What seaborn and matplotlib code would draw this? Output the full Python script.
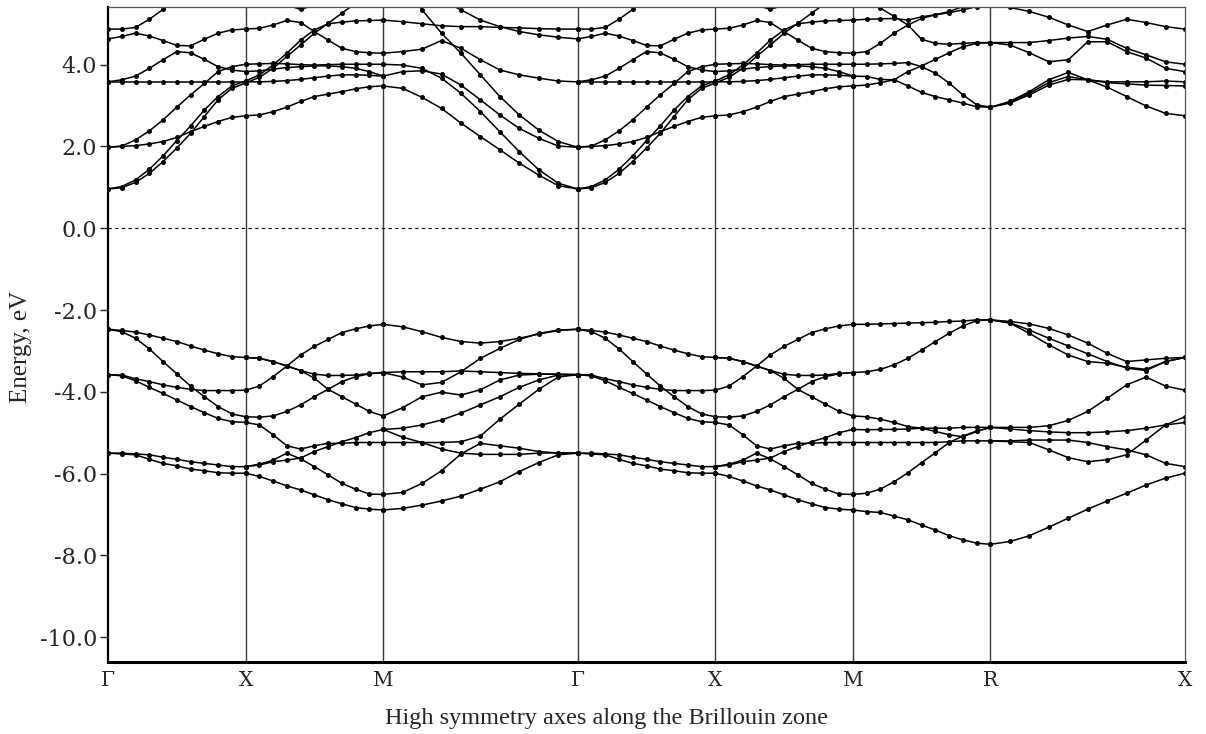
import numpy as np
import pandas as pd
import matplotlib
matplotlib.use("Agg")
import matplotlib.pyplot as plt
import seaborn as sns

# ---------------- data (energies in eV, 11 k-points per path segment) ----------------
K_LABELS = ["\u0393", "X", "M", "\u0393", "X", "M", "R", "X"]
SEG_LEN = [0.5, 0.5, 0.7071, 0.5, 0.5, 0.5, 0.7071]
Y_TICKS = [-10, -8, -6, -4, -2, 0, 2, 4]

# Gamma -> X (same dispersion on both Gamma-X legs of the path)
GX_val = [
    [-2.47, -2.50, -2.54, -2.61, -2.69, -2.77, -2.88, -2.98, -3.07, -3.14, -3.16],
    [-2.47, -2.53, -2.69, -2.95, -3.26, -3.56, -3.86, -4.12, -4.36, -4.54, -4.61],
    [-3.58, -3.59, -3.68, -3.75, -3.83, -3.89, -3.94, -3.97, -3.97, -3.97, -3.96],
    [-3.58, -3.61, -3.73, -3.89, -4.04, -4.20, -4.36, -4.51, -4.65, -4.73, -4.75],
    [-5.50, -5.50, -5.52, -5.54, -5.60, -5.65, -5.71, -5.75, -5.79, -5.83, -5.83],
    [-5.50, -5.52, -5.54, -5.65, -5.75, -5.81, -5.89, -5.93, -5.98, -5.99, -5.99],
]
GX_con = [
    [0.96, 0.99, 1.12, 1.34, 1.63, 1.96, 2.32, 2.73, 3.14, 3.42, 3.55],
    [0.96, 1.02, 1.18, 1.44, 1.77, 2.14, 2.50, 2.89, 3.22, 3.48, 3.60],
    [1.98, 2.00, 2.02, 2.06, 2.12, 2.22, 2.36, 2.49, 2.61, 2.71, 2.75],
    [1.98, 2.01, 2.16, 2.38, 2.65, 2.96, 3.26, 3.54, 3.83, 3.95, 4.01],
    [3.58, 3.58, 3.58, 3.58, 3.58, 3.58, 3.58, 3.58, 3.58, 3.58, 3.58],
    [3.58, 3.63, 3.72, 3.91, 4.12, 4.32, 4.29, 4.13, 3.95, 3.87, 3.83],
    [4.63, 4.69, 4.77, 4.70, 4.59, 4.47, 4.46, 4.62, 4.77, 4.85, 4.87],
    [4.87, 4.87, 4.91, 5.11, 5.35, 5.62, 5.91, 6.19, 6.48, 6.72, 6.97],
]

# X -> M (same dispersion on both X-M legs)
XM_val = [
    [-3.16, -3.18, -3.26, -3.37, -3.48, -3.57, -3.60, -3.60, -3.59, -3.55, -3.53],
    [-3.16, -3.18, -3.26, -3.37, -3.48, -3.67, -3.94, -4.12, -4.30, -4.48, -4.59],
    [-3.96, -3.86, -3.63, -3.37, -3.10, -2.89, -2.72, -2.55, -2.46, -2.39, -2.35],
    [-4.61, -4.62, -4.59, -4.48, -4.32, -4.12, -3.94, -3.75, -3.63, -3.56, -3.53],
    [-4.75, -4.81, -5.05, -5.32, -5.40, -5.32, -5.26, -5.26, -5.24, -5.24, -5.24],
    [-5.83, -5.77, -5.67, -5.50, -5.64, -5.83, -6.03, -6.24, -6.38, -6.50, -6.51],
    [-5.83, -5.79, -5.71, -5.67, -5.62, -5.46, -5.34, -5.22, -5.12, -5.00, -4.92],
    [-5.99, -6.07, -6.18, -6.30, -6.40, -6.52, -6.64, -6.74, -6.83, -6.87, -6.89],
]
XM_con = [
    [2.75, 2.77, 2.85, 2.96, 3.10, 3.22, 3.28, 3.34, 3.41, 3.46, 3.48],
    [3.58, 3.58, 3.59, 3.61, 3.64, 3.68, 3.72, 3.75, 3.75, 3.74, 3.72],
    [3.83, 3.85, 3.89, 3.93, 3.95, 3.97, 3.97, 3.95, 3.91, 3.83, 3.72],
    [4.01, 4.02, 4.03, 4.02, 4.00, 3.99, 4.00, 4.01, 4.01, 4.01, 4.01],
    [3.55, 3.69, 3.91, 4.20, 4.48, 4.77, 5.01, 5.26, 5.50, 5.75, 6.03],
    [3.60, 3.75, 3.99, 4.28, 4.60, 4.85, 5.00, 5.04, 5.07, 5.08, 5.09],
    [4.87, 4.89, 4.97, 5.08, 5.03, 4.81, 4.60, 4.40, 4.32, 4.29, 4.28],
    [6.07, 5.91, 5.70, 5.46, 5.35, 5.46, 5.70, 5.95, 6.19, 6.40, 6.64],
]

# M -> Gamma
MG_val = [
    [-2.35, -2.41, -2.53, -2.67, -2.77, -2.81, -2.77, -2.69, -2.59, -2.50, -2.47],
    [-3.53, -3.51, -3.51, -3.51, -3.49, -3.51, -3.53, -3.55, -3.56, -3.57, -3.58],
    [-3.53, -3.64, -3.83, -3.77, -3.51, -3.18, -2.94, -2.72, -2.57, -2.49, -2.47],
    [-4.59, -4.39, -4.12, -4.01, -4.08, -3.95, -3.71, -3.59, -3.57, -3.57, -3.58],
    [-4.92, -4.89, -4.81, -4.69, -4.52, -4.32, -4.12, -3.89, -3.71, -3.59, -3.58],
    [-5.24, -5.24, -5.24, -5.24, -5.22, -5.08, -4.67, -4.30, -3.94, -3.64, -3.58],
    [-6.51, -6.46, -6.24, -5.93, -5.52, -5.26, -5.32, -5.38, -5.46, -5.50, -5.50],
    [-4.92, -5.11, -5.24, -5.40, -5.50, -5.53, -5.53, -5.53, -5.50, -5.49, -5.50],
    [-6.89, -6.85, -6.77, -6.67, -6.55, -6.38, -6.20, -5.95, -5.73, -5.54, -5.50],
]
MG_con = [
    [3.48, 3.42, 3.20, 2.93, 2.57, 2.24, 1.92, 1.59, 1.30, 1.04, 0.96],
    [4.01, 3.99, 3.91, 3.67, 3.30, 2.85, 2.36, 1.87, 1.43, 1.10, 0.96],
    [3.72, 3.83, 3.85, 3.77, 3.50, 3.14, 2.77, 2.44, 2.20, 2.01, 1.98],
    [4.28, 4.32, 4.38, 4.59, 4.40, 4.12, 3.87, 3.75, 3.67, 3.60, 3.58],
    [5.09, 5.05, 5.00, 4.95, 4.93, 4.93, 4.91, 4.90, 4.88, 4.87, 4.87],
    [6.23, 6.03, 5.83, 5.58, 5.34, 5.09, 4.93, 4.81, 4.73, 4.67, 4.63],
    [6.80, 6.07, 5.34, 4.77, 4.28, 3.75, 3.22, 2.77, 2.40, 2.12, 1.98],
]

# M -> R
MR_val = [
    [-2.35, -2.35, -2.34, -2.33, -2.32, -2.31, -2.30, -2.28, -2.27, -2.24, -2.24],
    [-3.53, -3.51, -3.45, -3.34, -3.18, -2.98, -2.77, -2.57, -2.39, -2.26, -2.24],
    [-4.59, -4.61, -4.67, -4.75, -4.85, -4.89, -4.97, -5.05, -5.10, -4.97, -4.87],
    [-4.92, -4.93, -4.92, -4.92, -4.91, -4.89, -4.89, -4.89, -4.87, -4.87, -4.87],
    [-5.24, -5.24, -5.24, -5.24, -5.24, -5.24, -5.24, -5.22, -5.20, -5.20, -5.20],
    [-6.51, -6.48, -6.38, -6.20, -5.98, -5.73, -5.49, -5.24, -5.08, -4.96, -4.87],
    [-6.89, -6.93, -6.95, -7.04, -7.13, -7.26, -7.38, -7.52, -7.62, -7.70, -7.73],
]
MR_con = [
    [3.48, 3.50, 3.56, 3.63, 3.48, 3.32, 3.22, 3.14, 3.06, 2.97, 2.96],
    [3.72, 3.71, 3.64, 3.63, 3.83, 3.97, 4.13, 4.29, 4.44, 4.52, 4.54],
    [4.01, 4.01, 4.02, 4.03, 4.05, 3.95, 3.79, 3.55, 3.26, 3.02, 2.96],
    [4.28, 4.32, 4.52, 4.77, 4.97, 5.13, 5.22, 5.30, 5.42, 5.54, 5.66],
    [5.91, 5.66, 5.38, 5.18, 4.97, 4.62, 4.52, 4.50, 4.52, 4.54, 4.54],
    [5.09, 5.11, 5.12, 5.13, 5.09, 5.17, 5.22, 5.27, 5.34, 5.42, 5.50],
]

# R -> X
RX_val = [
    [-2.24, -2.28, -2.34, -2.45, -2.61, -2.81, -3.06, -3.26, -3.22, -3.18, -3.16],
    [-2.24, -2.31, -2.49, -2.69, -2.88, -3.07, -3.26, -3.42, -3.48, -3.26, -3.16],
    [-2.24, -2.32, -2.57, -2.85, -3.10, -3.26, -3.30, -3.40, -3.45, -3.26, -3.16],
    [-4.87, -4.87, -4.87, -4.83, -4.70, -4.48, -4.16, -3.83, -3.64, -3.86, -3.96],
    [-5.20, -5.20, -5.18, -5.18, -5.18, -5.24, -5.34, -5.42, -5.54, -5.75, -5.83],
    [-5.20, -5.22, -5.24, -5.42, -5.61, -5.71, -5.66, -5.54, -5.18, -4.81, -4.61],
    [-4.87, -4.91, -4.95, -4.98, -5.00, -5.00, -4.98, -4.95, -4.89, -4.81, -4.75],
    [-7.73, -7.66, -7.52, -7.31, -7.09, -6.87, -6.67, -6.48, -6.28, -6.11, -5.99],
]
RX_con = [
    [2.96, 3.10, 3.34, 3.63, 3.81, 3.63, 3.45, 3.22, 2.99, 2.81, 2.75],
    [2.96, 3.08, 3.30, 3.56, 3.71, 3.63, 3.56, 3.53, 3.50, 3.49, 3.48],
    [2.96, 3.06, 3.26, 3.50, 3.64, 3.63, 3.58, 3.58, 3.58, 3.60, 3.58],
    [4.54, 4.54, 4.54, 4.59, 4.65, 4.69, 4.62, 4.40, 4.24, 4.07, 4.01],
    [4.54, 4.48, 4.29, 4.07, 4.12, 4.56, 4.56, 4.32, 4.16, 3.91, 3.83],
    [5.54, 5.40, 5.30, 5.16, 4.97, 4.81, 4.97, 5.11, 5.03, 4.93, 4.87],
]

SEGMENTS = [
    GX_val + GX_con,
    XM_val + XM_con,
    MG_val + MG_con,
    GX_val + GX_con,
    XM_val + XM_con,
    MR_val + MR_con,
    RX_val + RX_con,
]

# ---------------- build long table ----------------
k_nodes = np.concatenate([[0.0], np.cumsum(SEG_LEN)])
rows = []
uid = 0
for s, bands in enumerate(SEGMENTS):
    for band in bands:
        ks = np.linspace(k_nodes[s], k_nodes[s + 1], len(band))
        for k, e in zip(ks, band):
            rows.append((uid, k, e))
        uid += 1
df = pd.DataFrame(rows, columns=["uid", "k", "E"])

# ---------------- plot ----------------
sns.set_style("white")
plt.rcParams["font.family"] = ["DejaVu Serif"]

fig = plt.figure(figsize=(12.06, 7.34), dpi=100)
ax = fig.add_axes([108 / 1206, 1 - 661.7 / 734, (1185 - 108) / 1206, (661.7 - 7) / 734])

sns.lineplot(data=df, x="k", y="E", units="uid", estimator=None, sort=False,
             color="black", lw=1.1, marker="o", markersize=3.6,
             markeredgewidth=0, ax=ax, legend=False)

for xv in k_nodes[1:-1]:
    ax.axvline(xv, color="#3a3a3a", lw=1.0, zorder=0)
ax.axhline(0.0, color="black", lw=0.8, ls=(0, (3, 3)), zorder=0)

ax.set_xlim(k_nodes[0], k_nodes[-1])
ax.set_ylim(-10.6, 5.41)

ax.set_xticks(k_nodes)
ax.set_xticklabels(K_LABELS, fontsize=14.5)
ax.set_yticks(Y_TICKS)
ax.set_yticklabels([f"{v:.1f}" for v in Y_TICKS], fontsize=16)
ax.tick_params(axis="x", length=0, pad=7)
ax.tick_params(axis="y", length=6, width=1.0, pad=2, direction="out", left=True)

ax.set_xlabel("High symmetry axes along the Brillouin zone", fontsize=17.5,
              family="Liberation Serif")
ax.xaxis.set_label_coords(0.463, -0.070)
ax.set_ylabel("Energy, eV", fontsize=18, family="Liberation Serif")
ax.yaxis.set_label_coords(-0.0705, 0.481)

for side in ["top", "right"]:
    ax.spines[side].set_visible(True)
    ax.spines[side].set_color("#555555")
    ax.spines[side].set_linewidth(0.9)
ax.spines["left"].set_linewidth(1.6)
ax.spines["left"].set_color("black")
ax.spines["bottom"].set_linewidth(2.2)
ax.spines["bottom"].set_color("black")

fig.savefig("out.png", dpi=100)
